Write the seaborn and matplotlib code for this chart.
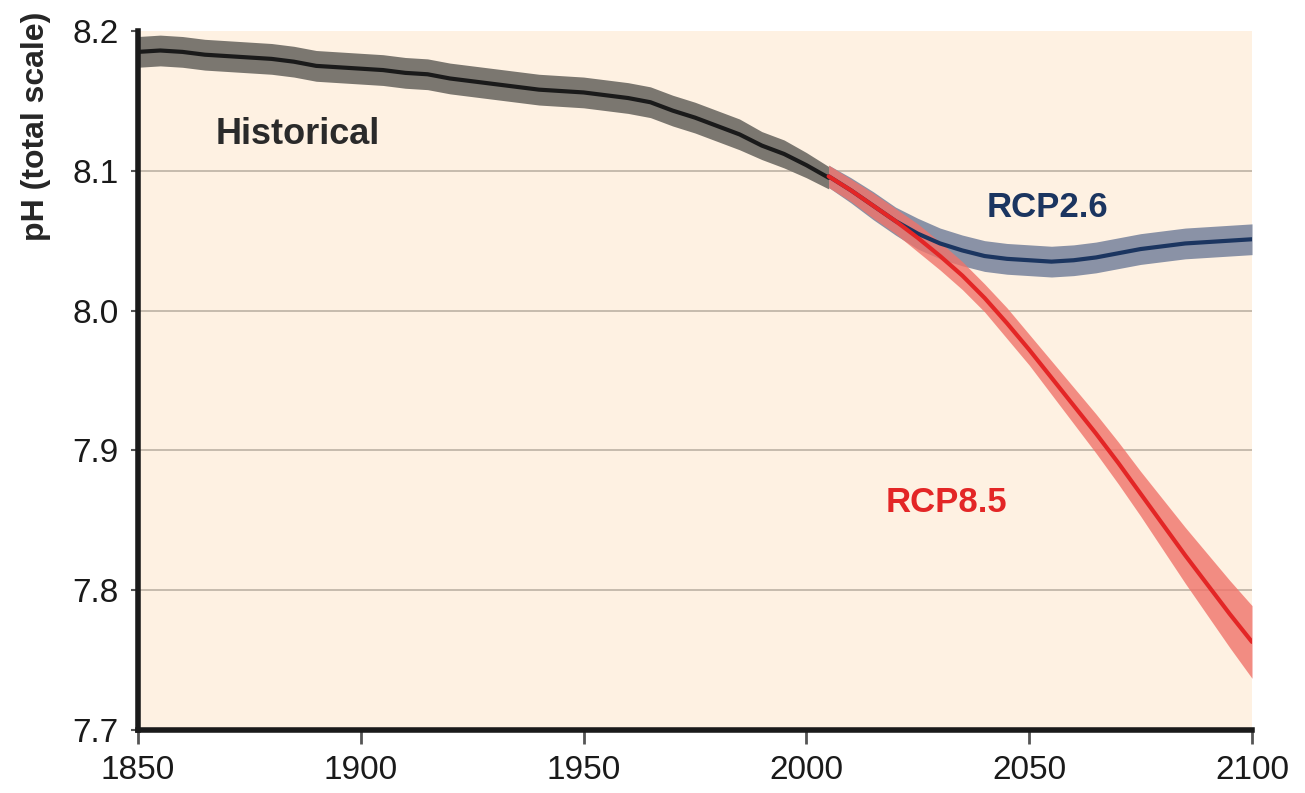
import numpy as np
import pandas as pd
import matplotlib
matplotlib.use("Agg")
import matplotlib.pyplot as plt
from matplotlib import font_manager
import seaborn as sns

# 過去の海洋pH（5年ごと）
hist_years = list(range(1850, 2006, 5))
hist_ph = [8.185, 8.186, 8.185, 8.183, 8.182, 8.181, 8.180, 8.178, 8.175, 8.174,
           8.173, 8.172, 8.170, 8.169, 8.166, 8.164, 8.162, 8.160, 8.158, 8.157,
           8.156, 8.154, 8.152, 8.149, 8.143, 8.138, 8.132, 8.126, 8.118, 8.112,
           8.104, 8.095]
hist_unc = [0.011] * 28 + [0.010, 0.010, 0.009, 0.008]

# シナリオ予測（2005-2100）
proj_years = list(range(2005, 2101, 5))
rcp26_ph = [8.096, 8.086, 8.075, 8.064, 8.055, 8.048, 8.043, 8.039, 8.037, 8.036,
            8.035, 8.036, 8.038, 8.041, 8.044, 8.046, 8.048, 8.049, 8.050, 8.051]
rcp26_unc = [0.008, 0.009, 0.010, 0.010, 0.011, 0.011, 0.011, 0.011, 0.011, 0.011,
             0.011, 0.011, 0.011, 0.011, 0.011, 0.011, 0.011, 0.011, 0.011, 0.011]
rcp85_ph = [8.096, 8.086, 8.075, 8.064, 8.052, 8.039, 8.025, 8.009, 7.991, 7.972,
            7.952, 7.932, 7.912, 7.891, 7.869, 7.847, 7.825, 7.804, 7.783, 7.763]
rcp85_unc = [0.008, 0.008, 0.009, 0.009, 0.010, 0.010, 0.010, 0.010, 0.011, 0.011,
             0.012, 0.013, 0.014, 0.015, 0.016, 0.018, 0.020, 0.022, 0.024, 0.026]

x_ticks = [1850, 1900, 1950, 2000, 2050, 2100]
y_ticks = [7.7, 7.8, 7.9, 8.0, 8.1, 8.2]

sns.set_theme(style="white")
available = {f.name for f in font_manager.fontManager.ttflist}
if "Liberation Sans Narrow" in available:
    plt.rcParams["font.family"] = ["Liberation Sans Narrow", "DejaVu Sans"]
else:
    plt.rcParams["font.family"] = ["Liberation Sans", "DejaVu Sans"]

fig = plt.figure(figsize=(13.05, 7.93), dpi=100)
ax = fig.add_axes([0.1057, 0.0794, 0.8537, 0.8816])
ax.set_facecolor("#FEF1E2")

# グリッド線
for v in [7.8, 7.9, 8.0, 8.1]:
    ax.axhline(v, color="#BDB2A4", lw=1.2, zorder=1)

hist = pd.DataFrame({"year": hist_years, "ph": hist_ph, "unc": hist_unc})
proj = pd.DataFrame({"year": proj_years, "rcp26": rcp26_ph, "u26": rcp26_unc,
                     "rcp85": rcp85_ph, "u85": rcp85_unc})

# 不確実性の帯
ax.fill_between(hist["year"], hist["ph"] - hist["unc"], hist["ph"] + hist["unc"],
                color="#7B7770", lw=0, zorder=2)
ax.fill_between(proj["year"], proj["rcp26"] - proj["u26"], proj["rcp26"] + proj["u26"],
                color="#8A92A6", lw=0, zorder=2)
ax.fill_between(proj["year"], proj["rcp85"] - proj["u85"], proj["rcp85"] + proj["u85"],
                color="#F0736A", alpha=0.8, lw=0, zorder=3)

sns.lineplot(data=hist, x="year", y="ph", color="#1A1A1A", lw=3, ax=ax, zorder=4)
sns.lineplot(data=proj, x="year", y="rcp26", color="#1B3560", lw=3, ax=ax, zorder=4)
sns.lineplot(data=proj, x="year", y="rcp85", color="#E32626", lw=3, ax=ax, zorder=5)

ax.text(1867.5, 8.126, "Historical", fontsize=26, fontweight="bold", color="#2A2A2A",
        ha="left", va="center")
ax.text(2040.5, 8.074, "RCP2.6", fontsize=25, fontweight="bold", color="#1B3560",
        ha="left", va="center")
ax.text(2017.8, 7.863, "RCP8.5", fontsize=25, fontweight="bold", color="#E32626",
        ha="left", va="center")

ax.set_xlim(1850, 2100)
ax.set_ylim(7.7, 8.2)
ax.set_xticks(x_ticks)
ax.set_yticks(y_ticks)
ax.set_yticklabels([f"{v:.1f}" for v in y_ticks])
ax.tick_params(axis="x", direction="out", length=10, width=2, color="#555555",
               labelsize=24, pad=8, bottom=True, labelcolor="#1A1A1A")
ax.tick_params(axis="y", direction="out", length=5, width=1.5, color="#555555",
               labelsize=24, pad=9, left=True, labelcolor="#1A1A1A")
ax.set_xlabel("")
ax.set_ylabel("pH (total scale)", fontsize=23, fontweight="bold")
ax.yaxis.set_label_coords(-0.078, 0.864)

for s in ["top", "right"]:
    ax.spines[s].set_visible(False)
for s in ["left", "bottom"]:
    ax.spines[s].set_color("#1A1A1A")
    ax.spines[s].set_linewidth(4)
    ax.spines[s].set_zorder(6)

fig.savefig("out.png", dpi=100, facecolor="white")
